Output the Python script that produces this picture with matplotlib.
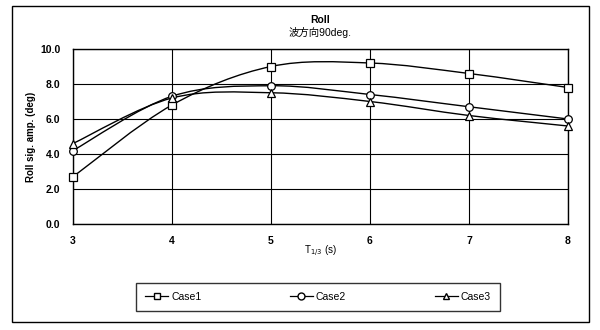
"""
Roll significant amplitude vs T1/3, three cases (smoothed lines like Excel)
"""
import numpy as np
import matplotlib.pyplot as plt
from matplotlib.path import Path
from matplotlib.patches import PathPatch, Rectangle

plt.rcParams['font.family'] = ['Liberation Sans', 'Noto Sans CJK JP', 'DejaVu Sans']

periods = [3, 4, 5, 6, 7, 8]
case1 = [2.7, 6.8, 9.0, 9.2, 8.6, 7.8]
case2 = [4.2, 7.3, 7.9, 7.4, 6.7, 6.0]
case3 = [4.6, 7.2, 7.5, 7.0, 6.2, 5.6]
series = [('Case1', case1, 's'), ('Case2', case2, 'o'), ('Case3', case3, '^')]
yticks = [0.0, 2.0, 4.0, 6.0, 8.0, 10.0]


def smooth_path(x, y, t=1.0 / 6):
    """Catmull-Rom style bezier path through the points
    """
    x = np.asarray(x, float)
    y = np.asarray(y, float)
    pts = np.column_stack([x, y])
    verts = [pts[0]]
    codes = [Path.MOVETO]
    n = len(pts)
    for i in range(n - 1):
        p0 = pts[i - 1] if i > 0 else pts[i]
        p1 = pts[i]
        p2 = pts[i + 1]
        p3 = pts[i + 2] if i + 2 < n else pts[i + 1]
        c1 = p1 + (p2 - p0) * t
        c2 = p2 - (p3 - p1) * t
        verts += [c1, c2, p2]
        codes += [Path.CURVE4] * 3
    return Path(verts, codes)


def main():
    fig = plt.figure(figsize=(6, 3.3), dpi=100)
    ax = fig.add_axes([73 / 600, 1 - 224 / 330, 495 / 600, 175 / 330])

    for label, vals, mk in series:
        ax.add_patch(PathPatch(smooth_path(periods, vals), fill=False,
                               edgecolor='black', linewidth=1.0, zorder=3))
        ax.plot(periods, vals, linestyle='none', marker=mk, markersize=5.5,
                markerfacecolor='white', markeredgecolor='black',
                markeredgewidth=0.9, zorder=4, clip_on=False)
        # legend proxy
        ax.plot([], [], color='black', linewidth=0.9, marker=mk, markersize=5,
                markerfacecolor='white', markeredgecolor='black', label=label)

    ax.set_xlim(3, 8)
    ax.set_ylim(0, 10)
    ax.set_xticks(periods)
    ax.set_yticks(yticks)
    ax.set_yticklabels([f"{v:.1f}" for v in yticks], fontweight='bold', fontsize=7.5)
    ax.set_xticklabels([str(p) for p in periods], fontweight='bold', fontsize=7.5)
    ax.tick_params(length=0, pad=9)
    ax.grid(True, color='black', linewidth=0.8)
    ax.set_axisbelow(True)
    for s in ax.spines.values():
        s.set_linewidth(1.0)

    ax.set_ylabel("Roll sig. amp. (deg)", fontsize=7, fontweight='bold', labelpad=3)
    ax.set_xlabel("T$_{1/3}$ (s)", fontsize=7, labelpad=-2)

    fig.text(320 / 600, 1 - 20 / 330, "Roll", ha='center', va='center',
             fontsize=7.5, fontweight='bold')
    fig.text(320 / 600, 1 - 33 / 330, "波方向90deg.", ha='center', va='center',
             fontsize=7.5)

    fig.legend(loc='center', bbox_to_anchor=(318 / 600, 1 - 297 / 330), ncol=3,
               fontsize=7.5, frameon=True, fancybox=False, edgecolor='black',
               columnspacing=8.5, handlelength=2.2, borderpad=0.9,
               handletextpad=0.3, borderaxespad=0)

    fig.patches.append(Rectangle((12 / 600, 1 - 322 / 330), 577 / 600, 316 / 330,
                                 transform=fig.transFigure, fill=False,
                                 edgecolor='black', linewidth=1.0))

    fig.savefig('out.png', dpi=100, facecolor='white')


if __name__ == '__main__':
    main()
